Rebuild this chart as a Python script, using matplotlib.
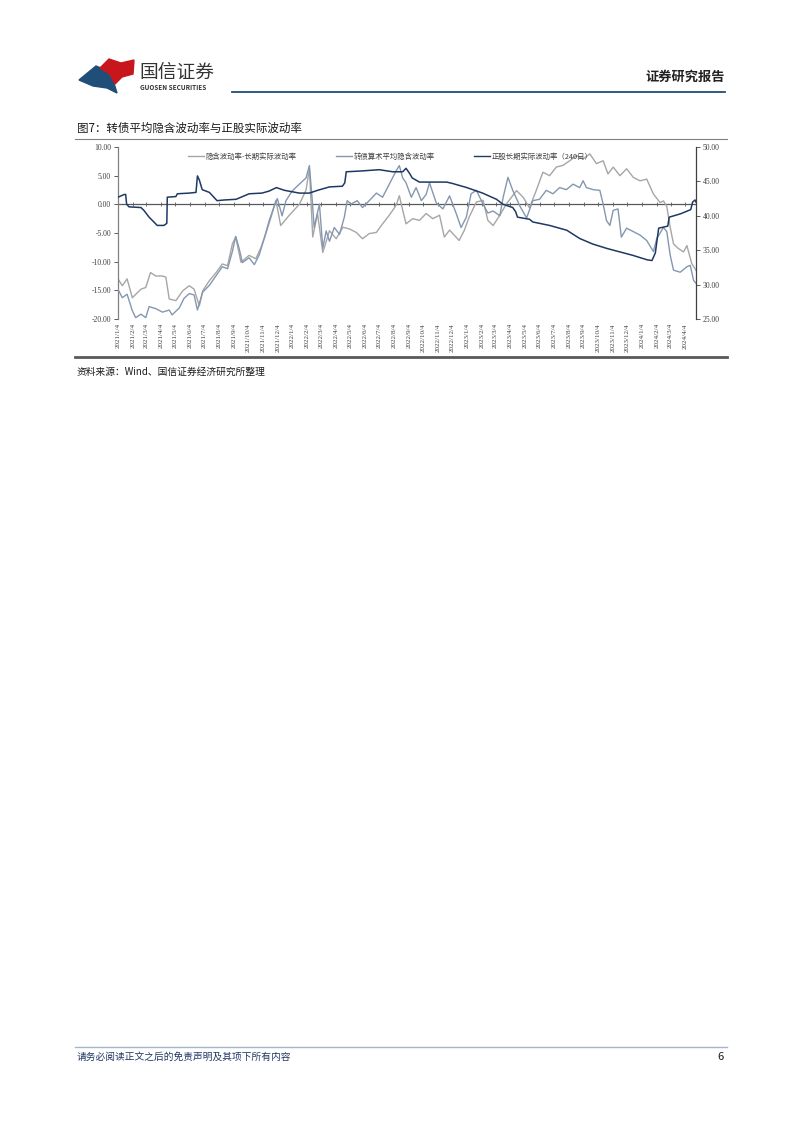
import numpy as np
import pandas as pd
import matplotlib
matplotlib.use('Agg')
import matplotlib.pyplot as plt
from matplotlib.lines import Line2D
from matplotlib.patches import Polygon
from matplotlib.ticker import FormatStrFormatter

plt.rcParams['font.family'] = ['Noto Sans CJK SC', 'DejaVu Sans']

W, H = 802, 1133

# 隐含波动率-长期实际波动率 (left axis)
spread_dates = ['2021-01-04', '2021-01-13', '2021-01-23', '2021-02-03', '2021-02-10', '2021-02-21',
                '2021-03-03', '2021-03-13', '2021-03-24', '2021-04-07', '2021-04-14', '2021-04-21',
                '2021-05-05', '2021-05-19', '2021-06-02', '2021-06-12', '2021-06-23', '2021-06-30',
                '2021-07-14', '2021-07-28', '2021-08-10', '2021-08-21', '2021-08-31', '2021-09-07',
                '2021-09-18', '2021-10-05', '2021-10-19', '2021-10-30', '2021-11-09', '2021-11-20',
                '2021-11-30', '2021-12-10', '2021-12-28', '2022-01-18', '2022-02-01', '2022-02-08',
                '2022-02-15', '2022-02-25', '2022-03-08', '2022-03-22', '2022-04-05', '2022-04-19',
                '2022-05-03', '2022-05-17', '2022-05-30', '2022-06-13', '2022-06-28', '2022-07-11',
                '2022-07-25', '2022-08-08', '2022-08-15', '2022-08-22', '2022-08-29', '2022-09-12',
                '2022-09-26', '2022-10-10', '2022-10-24', '2022-11-07', '2022-11-17', '2022-11-28',
                '2022-12-08', '2022-12-18', '2022-12-29', '2023-01-08', '2023-01-23', '2023-02-06',
                '2023-02-16', '2023-02-27', '2023-03-13', '2023-03-27', '2023-04-17', '2023-05-01',
                '2023-05-14', '2023-05-28', '2023-06-11', '2023-06-25', '2023-07-09', '2023-07-23',
                '2023-08-06', '2023-08-20', '2023-09-03', '2023-09-17', '2023-10-01', '2023-10-15',
                '2023-10-25', '2023-11-05', '2023-11-19', '2023-12-03', '2023-12-17', '2023-12-31',
                '2024-01-14', '2024-01-28', '2024-02-11', '2024-02-18', '2024-02-25', '2024-03-03',
                '2024-03-10', '2024-03-20', '2024-03-31', '2024-04-07', '2024-04-17', '2024-04-26']
spread_vals = [-13.0, -14.2, -13.0, -16.3, -15.7, -14.8,
               -14.5, -11.9, -12.5, -12.5, -12.7, -16.5,
               -16.8, -15.1, -14.2, -14.8, -17.7, -15.1,
               -13.3, -11.9, -10.4, -10.7, -6.9, -5.7,
               -10.1, -8.9, -9.5, -7.5, -5.1, -2.2,
               0.7, -3.7, -1.9, 0.0, 2.5, 6.2,
               -5.7, -1.6, -8.4, -4.6, -6.0, -4.0,
               -4.3, -4.9, -6.0, -5.1, -4.9, -3.4,
               -1.9, -0.2, 1.5, -1.0, -3.4, -2.5,
               -2.8, -1.6, -2.5, -1.9, -5.7, -4.5,
               -5.4, -6.3, -4.5, -2.2, 0.4, 0.7,
               -2.8, -3.7, -1.9, 0.1, 2.4, 1.2,
               -0.6, 2.4, 5.6, 5.0, 6.5, 6.8,
               7.6, 8.5, 7.9, 8.8, 7.1, 7.6,
               5.3, 6.5, 5.0, 6.2, 4.7, 4.1,
               4.4, 1.8, 0.3, 0.6, -0.4, -4.0,
               -6.9, -7.7, -8.3, -7.2, -10.3, -11.5]

# 转债算术平均隐含波动率 (right axis)
iv_dates = ['2021-01-04', '2021-01-13', '2021-01-23', '2021-02-03', '2021-02-10', '2021-02-21',
            '2021-03-03', '2021-03-10', '2021-03-24', '2021-04-07', '2021-04-21', '2021-04-27',
            '2021-05-12', '2021-05-22', '2021-06-02', '2021-06-12', '2021-06-19', '2021-06-30',
            '2021-07-14', '2021-07-28', '2021-08-10', '2021-08-21', '2021-08-31', '2021-09-07',
            '2021-09-14', '2021-09-21', '2021-10-05', '2021-10-16', '2021-10-26', '2021-11-06',
            '2021-11-16', '2021-11-27', '2021-12-03', '2021-12-13', '2021-12-21', '2022-01-03',
            '2022-01-18', '2022-02-01', '2022-02-08', '2022-02-14', '2022-02-18', '2022-03-01',
            '2022-03-08', '2022-03-15', '2022-03-22', '2022-04-01', '2022-04-12', '2022-04-22',
            '2022-04-28', '2022-05-06', '2022-05-19', '2022-05-30', '2022-06-13', '2022-06-28',
            '2022-07-11', '2022-07-25', '2022-08-08', '2022-08-15', '2022-08-22', '2022-08-29',
            '2022-09-09', '2022-09-19', '2022-09-30', '2022-10-10', '2022-10-17', '2022-10-31',
            '2022-11-14', '2022-11-28', '2022-12-12', '2022-12-22', '2023-01-02', '2023-01-12',
            '2023-01-23', '2023-02-06', '2023-02-16', '2023-02-27', '2023-03-13', '2023-03-20',
            '2023-03-30', '2023-04-09', '2023-04-24', '2023-05-08', '2023-05-21', '2023-06-04',
            '2023-06-18', '2023-07-02', '2023-07-16', '2023-07-30', '2023-08-13', '2023-08-27',
            '2023-09-03', '2023-09-10', '2023-09-24', '2023-10-08', '2023-10-15', '2023-10-22',
            '2023-10-29', '2023-11-05', '2023-11-15', '2023-11-22', '2023-12-03', '2023-12-17',
            '2023-12-31', '2024-01-14', '2024-01-28', '2024-02-04', '2024-02-18', '2024-02-25',
            '2024-03-03', '2024-03-10', '2024-03-24', '2024-04-07', '2024-04-14', '2024-04-21',
            '2024-04-26']
iv_vals = [29.3, 28.1, 28.6, 26.2, 25.2, 25.7,
           25.2, 26.8, 26.5, 26.0, 26.3, 25.6,
           26.6, 28.0, 28.7, 28.5, 26.3, 28.9,
           29.9, 31.3, 32.6, 32.3, 34.8, 37.0,
           35.3, 33.2, 33.9, 32.9, 34.3, 36.8,
           39.3, 41.5, 42.5, 40.0, 42.2, 43.6,
           44.6, 45.5, 47.3, 42.2, 38.3, 41.7,
           35.3, 37.8, 36.3, 38.3, 37.3, 39.8,
           42.2, 41.7, 42.2, 41.2, 42.2, 43.3,
           42.7, 44.6, 46.5, 47.3, 45.5, 44.8,
           42.7, 44.1, 42.2, 43.1, 44.8, 41.9,
           41.0, 42.9, 40.3, 38.3, 39.8, 43.2,
           43.7, 41.7, 40.4, 40.7, 40.0, 42.7,
           45.6, 43.7, 41.4, 39.7, 42.2, 42.4,
           43.7, 43.2, 44.1, 43.8, 44.6, 44.1,
           45.1, 44.1, 43.8, 43.7, 41.7, 39.3,
           38.6, 40.8, 41.0, 36.9, 38.2, 37.7,
           37.2, 36.4, 34.8, 36.7, 38.3, 37.7,
           34.3, 32.1, 31.8, 32.6, 32.8, 30.6,
           30.2]

# 正股长期实际波动率（240日） (right axis)
rv_dates = ['2021-01-04', '2021-01-17', '2021-01-20', '2021-01-22', '2021-01-27', '2021-02-21',
            '2021-02-27', '2021-03-10', '2021-03-20', '2021-03-27', '2021-04-10', '2021-04-16',
            '2021-04-17', '2021-05-05', '2021-05-08', '2021-06-02', '2021-06-16', '2021-06-19',
            '2021-06-23', '2021-06-29', '2021-07-14', '2021-07-30', '2021-08-14', '2021-09-08',
            '2021-10-05', '2021-11-01', '2021-11-16', '2021-12-01', '2021-12-18', '2022-01-18',
            '2022-02-08', '2022-02-25', '2022-03-22', '2022-04-18', '2022-04-23', '2022-04-26',
            '2022-05-24', '2022-07-04', '2022-08-01', '2022-08-22', '2022-08-29', '2022-09-05',
            '2022-09-11', '2022-09-26', '2022-11-22', '2022-12-04', '2023-01-03', '2023-02-05',
            '2023-03-06', '2023-03-19', '2023-04-09', '2023-04-15', '2023-04-19', '2023-05-14',
            '2023-05-21', '2023-06-25', '2023-07-31', '2023-08-27', '2023-09-23', '2023-10-23',
            '2023-11-19', '2023-12-16', '2024-01-15', '2024-01-25', '2024-02-01', '2024-02-08',
            '2024-02-27', '2024-03-01', '2024-03-25', '2024-04-15', '2024-04-19', '2024-04-24',
            '2024-04-26']
rv_vals = [42.7, 43.1, 43.1, 41.7, 41.3, 41.2,
           40.8, 39.8, 39.1, 38.6, 38.6, 38.9,
           42.7, 42.8, 43.2, 43.3, 43.4, 45.8,
           45.2, 43.8, 43.4, 42.2, 42.3, 42.4,
           43.2, 43.3, 43.6, 44.1, 43.7, 43.3,
           43.3, 43.7, 44.2, 44.3, 44.8, 46.4,
           46.5, 46.7, 46.4, 46.4, 46.9, 46.2,
           45.5, 44.9, 44.9, 44.7, 44.1, 43.3,
           42.4, 41.7, 41.2, 40.6, 39.8, 39.5,
           39.1, 38.6, 37.9, 36.7, 35.9, 35.25,
           34.75, 34.25, 33.6, 33.5, 34.6, 38.2,
           38.5, 39.8, 40.3, 40.9, 42.0, 42.3,
           42.0]

spread_label = '隐含波动率-长期实际波动率'
iv_label = '转债算术平均隐含波动率'
rv_label = '正股长期实际波动率（240日）'

tick_dates = pd.date_range('2021-01-04', '2024-04-04', freq=pd.DateOffset(months=1))
tick_labels = [f'{d.year}/{d.month}/{d.day}' for d in tick_dates]


def fx(x):
    return x / W


def fy(y):
    return 1 - y / H


fig = plt.figure(figsize=(W / 100, H / 100), dpi=100)

ax = fig.add_axes([fx(118), fy(319), (696 - 118) / W, (319 - 147) / H])
ax2 = ax.twinx()

l1, = ax.plot(pd.to_datetime(spread_dates), spread_vals, color='#A6A6A6', lw=1.0, label=spread_label)
l2, = ax2.plot(pd.to_datetime(iv_dates), iv_vals, color='#8497B0', lw=1.0, label=iv_label)
l3, = ax2.plot(pd.to_datetime(rv_dates), rv_vals, color='#1F3864', lw=1.1, label=rv_label)

ax.set_xlim(pd.Timestamp('2021-01-04'), pd.Timestamp('2024-04-26'))
ax.set_ylim(-20, 10)
ax.set_yticks(np.arange(-20, 10.1, 5))
ax.yaxis.set_major_formatter(FormatStrFormatter('%.2f'))
ax2.set_ylim(25, 50)
ax2.set_yticks(np.arange(25, 50.1, 5))
ax2.yaxis.set_major_formatter(FormatStrFormatter('%.2f'))

ax.set_xticks(tick_dates)
ax.set_xticklabels(tick_labels, rotation=90, fontsize=5, family='Liberation Serif', color='#404040')
ax.tick_params(axis='x', length=0, pad=3)
ax.tick_params(axis='y', labelsize=5.5, colors='#404040', length=3, width=0.6, pad=2)
ax2.tick_params(axis='y', labelsize=5.5, colors='#404040', length=3, width=0.6, pad=2)
for lab in ax.get_yticklabels() + ax2.get_yticklabels():
    lab.set_family('Liberation Serif')

for s in ['top', 'bottom', 'right']:
    ax.spines[s].set_visible(False)
for s in ['top', 'bottom', 'left']:
    ax2.spines[s].set_visible(False)
ax.spines['left'].set_color('#808080')
ax.spines['left'].set_linewidth(0.9)
ax2.spines['right'].set_color('#404040')
ax2.spines['right'].set_linewidth(0.9)

# zero line of the left axis with month ticks
zero = ax.secondary_xaxis(2 / 3)
zero.set_xticks(tick_dates)
zero.set_xticklabels([])
zero.tick_params(length=3, width=0.6, direction='inout', color='#595959')
for s in zero.spines.values():
    s.set_color('#595959')
    s.set_linewidth(0.9)

leg = ax2.legend(handles=[l1, l2, l3], ncol=3, loc='upper left', bbox_to_anchor=(0.121, 0.965),
                 frameon=False, fontsize=5.3, handlelength=2.2, handletextpad=0.15, columnspacing=5.4,
                 borderaxespad=0, borderpad=0)
for t in leg.get_texts():
    t.set_color('#404040')
for h in leg.get_lines():
    h.set_linewidth(1.0)

# header
blue_shape = Polygon([(fx(79), fy(80)), (fx(96), fy(66)), (fx(106), fy(70)), (fx(113), fy(80)),
                      (fx(117), fy(93)), (fx(107), fy(88)), (fx(93), fy(86))],
                     closed=True, transform=fig.transFigure, color='#1F4E79')
red_shape = Polygon([(fx(100), fy(68)), (fx(109), fy(59)), (fx(121), fy(63)), (fx(134), fy(60)),
                     (fx(133), fy(74)), (fx(122), fy(77)), (fx(115), fy(84)), (fx(110), fy(74))],
                    closed=True, transform=fig.transFigure, color='#C8161D')
fig.add_artist(blue_shape)
fig.add_artist(red_shape)
fig.text(fx(139), fy(72), '国信证券', fontsize=13.5, color='#333333', va='center', ha='left')
fig.text(fx(140), fy(87), 'GUOSEN SECURITIES', fontsize=4.6, color='#333333', va='center', ha='left',
         weight='bold')
fig.text(fx(725), fy(77), '证券研究报告', fontsize=9.5, color='#222222', va='center', ha='right',
         weight='bold')
fig.add_artist(Line2D([fx(232), fx(725)], [fy(92), fy(92)], color='#1F4E79', lw=1.3))

# title and frame rules
fig.text(fx(77), fy(128), '图7：转债平均隐含波动率与正股实际波动率', fontsize=8.3, color='#1a1a1a',
         va='center', ha='left')
fig.add_artist(Line2D([fx(75), fx(727)], [fy(139), fy(139)], color='#808080', lw=0.8))
fig.add_artist(Line2D([fx(75), fx(727)], [fy(357), fy(357)], color='#595959', lw=2.0))
fig.text(fx(77), fy(372), '资料来源：Wind、国信证券经济研究所整理', fontsize=7, color='#1a1a1a',
         va='center', ha='left')

# footer
fig.add_artist(Line2D([fx(75), fx(727)], [fy(1047), fy(1047)], color='#A6B4C8', lw=1.0))
fig.text(fx(77), fy(1057), '请务必阅读正文之后的免责声明及其项下所有内容', fontsize=7, color='#1F3864',
         va='center', ha='left', style='italic')
fig.text(fx(724), fy(1057), '6', fontsize=8, color='#1a1a1a', va='center', ha='right')

fig.savefig('out.png', dpi=100)
